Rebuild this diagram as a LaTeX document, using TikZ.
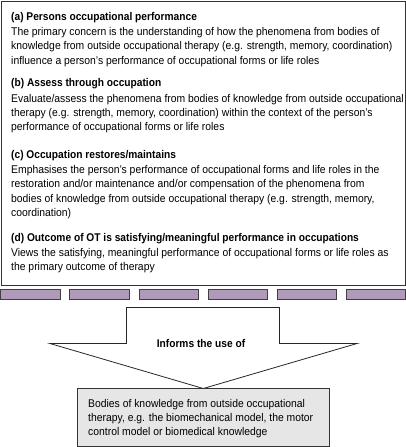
\documentclass[tikz,border=0pt]{standalone}
\usepackage{fontspec}
\setmainfont{Liberation Sans}[FakeStretch=0.926, BoldFeatures={FakeStretch=0.91}]
\definecolor{barra}{RGB}{176,154,186}
\definecolor{fondo}{RGB}{230,230,230}
\begin{document}
\begin{tikzpicture}[x=1pt,y=-1pt]
\tikzset{
    seccion/.style={anchor=north west, inner sep=0pt, align=left,
      font=\fontsize{11.2}{14.2}\selectfont},
    etiqueta/.style={text centered, inner sep=0pt, font=\fontsize{11.2}{14.2}\selectfont\bfseries}
}
\useasboundingbox (0,0) rectangle (406,447);
\draw[line width=0.9pt, black!80] (1,1) rectangle (405,285.5);
\node[seccion] (secA) at (11,12.5) {\textbf{(a) Persons occupational performance}\\[0.6pt]
The primary concern is the understanding of how the phenomena from bodies of\\
knowledge from outside occupational therapy (e.g. strength, memory, coordination)\\
influence a person’s performance of occupational forms or life roles};
\node[seccion] (secB) at (11,78) {\textbf{(b) Assess through occupation}\\[1.5pt]
Evaluate/assess the phenomena from bodies of knowledge from outside occupational\\
therapy (e.g. strength, memory, coordination) within the context of the person’s\\
performance of occupational forms or life roles};
\node[seccion] (secC) at (11,150.5) {\textbf{(c) Occupation restores/maintains}\\[0.6pt]
Emphasises the person’s performance of occupational forms and life roles in the\\
restoration and/or maintenance and/or compensation of the phenomena from\\
bodies of knowledge from outside occupational therapy (e.g. strength, memory,\\
coordination)};
\node[seccion] (secD) at (11,233.5) {\textbf{(d) Outcome of OT is satisfying/meaningful performance in occupations}\\[0.6pt]
Views the satisfying, meaningful performance of occupational forms or life roles as\\
the primary outcome of therapy};
\filldraw[fill=barra, draw=black!75, line width=0.7pt] (0.5,289.5) rectangle (60,299);
\filldraw[fill=barra, draw=black!75, line width=0.7pt] (69.5,289.5) rectangle (129,299);
\filldraw[fill=barra, draw=black!75, line width=0.7pt] (139,289.5) rectangle (198,299);
\filldraw[fill=barra, draw=black!75, line width=0.7pt] (208,289.5) rectangle (267,299);
\filldraw[fill=barra, draw=black!75, line width=0.7pt] (277,289.5) rectangle (336.5,299);
\filldraw[fill=barra, draw=black!75, line width=0.7pt] (346.5,289.5) rectangle (405.5,299);
\draw[line width=0.8pt, black!85, line join=miter] (126.5,307.5) -- (279.5,307.5) -- (279.5,343.5)
  -- (357,343.5) -- (203.3,388.5) -- (50,343.5) -- (126.5,343.5) -- cycle;
\node[etiqueta] (informa) at (201,343) {Informs the use of};
\filldraw[fill=fondo, draw=black!80, line width=0.8pt] (77,388.5) rectangle (329.5,446);
\node[seccion] (saberes) at (88,399) {Bodies of knowledge from outside occupational\\
therapy, e.g. the biomechanical model, the motor\\
control model or biomedical knowledge};
\end{tikzpicture}
\end{document}
